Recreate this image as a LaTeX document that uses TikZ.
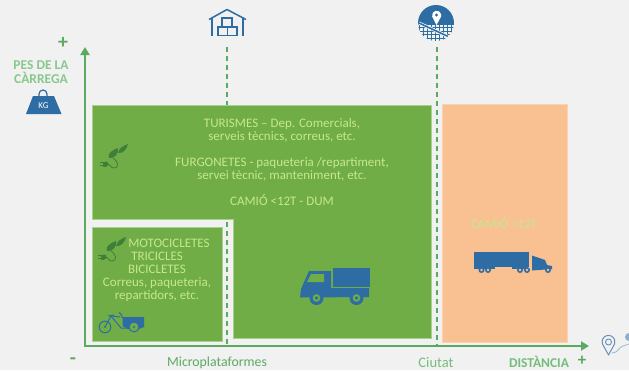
\documentclass[tikz,border=0pt]{standalone}
\usepackage{fontspec}
\setmainfont{Carlito}
\usetikzlibrary{arrows.meta}
\definecolor{pagegrey}{HTML}{F1F1F1}
\definecolor{axisgreen}{HTML}{5BAA62}
\definecolor{boxgreen}{HTML}{70AD47}
\definecolor{edgegreen}{HTML}{A9D18E}
\definecolor{textgreen}{HTML}{C5E88F}
\definecolor{labelgreen}{HTML}{86C98C}
\definecolor{darkleaf}{HTML}{3F7F3A}
\definecolor{boxorange}{HTML}{F9C091}
\definecolor{iconblue}{HTML}{2E6DA4}
\tikzset{
  axisline/.style={axisgreen,line width=2.4pt,-{Triangle[length=8pt,width=9pt]}},
  cutline/.style={axisgreen,line width=1.4pt,dash pattern=on 5pt off 4pt},
  boxtext/.style={textgreen,font=\fontsize{13}{13}\selectfont,align=center,inner sep=0pt},
  axistext/.style={axisgreen,font=\fontsize{13.8}{14}\selectfont,inner sep=0pt},
  headtext/.style={labelgreen,font=\bfseries\fontsize{13.5}{14}\selectfont,align=center,inner sep=0pt},
  sign/.style={axisgreen,font=\bfseries\fontsize{20}{20}\selectfont,inner sep=0pt},
  plant/.pic={
    \fill[darkleaf] (4,-4) .. controls (2,-9) and (8,-12) .. (13,-14) .. controls (14,-9) and (10,-3) .. (4,-4) -- cycle;
    \fill[darkleaf] (13,-9) .. controls (14,-14) and (18,-16) .. (23,-18) .. controls (22,-14) and (19,-8) .. (13,-9) -- cycle;
    \draw[darkleaf,line width=.8pt] (8,-4) .. controls (14,0) and (14,6) .. (9,6) .. controls (5,6) and (6,2) .. (2,2);
    \fill[darkleaf] (-2,-0.5) rectangle (1,4.5);
    \fill[darkleaf] (1,2) circle (2.5);
    \draw[darkleaf,line width=.8pt] (-5,0.5) -- (-2,0.5);
    \draw[darkleaf,line width=.8pt] (-5,3.5) -- (-2,3.5);
  }
}
\begin{document}
\begin{tikzpicture}[x=1pt,y=-1pt]
\useasboundingbox[fill=pagegrey] (0,0) rectangle (629,370);
\coordinate (O) at (85,346);
\coordinate (ytip) at (85,47);
\coordinate (xtip) at (589,346);
% boxes
\draw[draw=edgegreen,fill=boxgreen,line width=1pt] (92,105) -- (431,105) -- (431,338) -- (233,338) -- (233,219) -- (92,219) -- cycle;
\node[draw=edgegreen,fill=boxgreen,line width=1pt,minimum width=130pt,minimum height=114pt,inner sep=0pt,anchor=north west] (micro) at (92,227) {};
\node[draw=boxorange!70!white,fill=boxorange,line width=.8pt,minimum width=125pt,minimum height=238pt,inner sep=0pt,anchor=north west] (far) at (442,104) {};
% icons on top
\coordinate (depothead) at (227,47);
\coordinate (depotfoot) at (227,105);
\coordinate (microtop) at (227,222);
\coordinate (microfoot) at (227,346);
\coordinate (cityhead) at (437,47);
\coordinate (cityfoot) at (437,346);
\draw[cutline] (depothead) -- (depotfoot);
\draw[cutline] (microtop) -- (microfoot);
\draw[cutline] (cityhead) -- (cityfoot);
% axes
\draw[axisline,line cap=round] (O) -- (ytip);
\draw[axisline,line cap=round] (O) -- (xtip);
% warehouse
\draw[iconblue,line width=1.5pt,line join=round] (209,19.5) -- (227,9.5) -- (246,19.5);
\draw[iconblue,line width=1.5pt] (212,18) -- (212,36);
\draw[iconblue,line width=1.5pt] (243,18) -- (243,36);
\draw[iconblue,line width=1.2pt] (218,27) rectangle (227.5,35.5);
\draw[iconblue,line width=1.2pt] (227.5,27) rectangle (237,35.5);
\draw[iconblue,line width=1.2pt] (222,18) rectangle (232,27);
% map
\begin{scope}
\clip (436,23) circle (18);
\fill[iconblue] (418,5) rectangle (454,24);
\foreach \k in {0,...,8} \draw[iconblue,line width=1pt] (419+4*\k,22) -- (419+4*\k,41);
\foreach \k in {0,...,4} \draw[iconblue,line width=1pt] (418,24+3.6*\k) -- (454,24+3.6*\k);
\draw[white,line width=3pt] (419,23) -- (447,36);
\draw[iconblue,line width=1.6pt] (419,23) -- (447,36);
\end{scope}
\fill[white] (436.5,25) -- (432.2,16.5) arc (165:375:4.6) -- cycle;
\fill[iconblue] (436.5,15) circle (1.7);
% weight
\fill[iconblue] (33,96) -- (54,96) -- (61.5,114) -- (26,114) -- cycle;
\draw[iconblue,line width=1.2pt] (39,97) -- (39,94) arc (180:360:4) -- (47,97);
\node[white,font=\fontsize{9}{9}\selectfont,inner sep=0pt] (kg) at (43.5,105.5) {KG};
% plants
\pic at (105,162) {plant};
\pic at (103,255) {plant};
% bike
\draw[iconblue,line width=1pt] (105,327) circle (5.8);
\fill[iconblue] (105,327) circle (1.2);
\fill[iconblue] (122.5,317) -- (144,317) -- (144,327) -- (139,329) -- (128,329) -- (122.5,326) -- cycle;
\draw[iconblue,line width=1pt] (105,327) -- (111,316) -- (121,328) -- (134,328);
\draw[iconblue,line width=1pt] (108,316) -- (114,315);
\draw[iconblue,line width=1pt] (111,316) -- (120,317);
\draw[iconblue,line width=1pt] (122.5,318) -- (121,314) -- (119,312.5);
\draw[iconblue,fill=boxgreen,line width=1pt] (134,327) circle (5);
\fill[iconblue] (134,327) circle (1.2);
% small truck
\fill[iconblue] (332.5,268) rectangle (370,286.5);
\fill[iconblue] (309,271) -- (331,271) -- (331,288) -- (369,288) -- (369,297) -- (300,297.5) -- (301,289) -- cycle;
\fill[boxgreen] (311,274) -- (324,274) -- (324,282) -- (307,282) -- cycle;
\foreach \wx in {316.5,356.5} {
  \fill[iconblue] (\wx,298) circle (7);
  \fill[boxgreen] (\wx,298) circle (3.8);
  \fill[iconblue] (\wx,298) circle (1.8);
}
% long truck
\fill[iconblue] (474,252) rectangle (528.5,267);
\fill[iconblue] (474,267) rectangle (495,268.5);
\fill[iconblue] (512,267) rectangle (528,268.5);
\fill[iconblue] (532,255.5) -- (545,260) -- (547,265) -- (552,266) -- (552,269) -- (532,270.5) -- cycle;
\foreach \wx in {481.5,488,520,527,548} {
  \fill[iconblue] (\wx,270) circle (3);
  \fill[boxorange] (\wx,270) circle (1.4);
}
% pin
\draw[iconblue!75!white,line width=1pt,line join=round] (608.5,355) -- (602.5,344) arc (160:380:6.4) -- cycle;
\draw[iconblue!75!white,line width=.9pt] (608.5,342) circle (3);
\draw[iconblue!45!white,line width=.9pt] (612,353) .. controls (620,352) and (618,347) .. (623,346) -- (629,344);
\fill[iconblue!55!white] (629,337) circle (4);
% labels
\node[sign] (plusy) at (63,43) {+};
\node[sign] (minus) at (73,361) {-};
\node[sign,font=\bfseries\fontsize{17}{17}\selectfont] (plusx) at (582,361) {+};
\node[headtext] (weight) at (41,72) {PES DE LA\\CÀRREGA};
\node[axistext] (microlabel) at (217,362.5) {Microplataformes};
\node[axistext,labelgreen!60!axisgreen,font=\fontsize{14.5}{14}\selectfont] (citylabel) at (436,362.5) {Ciutat};
\node[axistext,labelgreen!60!axisgreen,font=\bfseries\fontsize{13.5}{14}\selectfont] (dist) at (539,362) {DISTÀNCIA};
\node[boxtext] (vans) at (282,162) {TURISMES -- Dep. Comercials,\\serveis tècnics, correus, etc.\\[13pt]FURGONETES  - paqueteria /repartiment,\\servei tècnic, manteniment, etc.\\[13pt]CAMIÓ <12T - DUM};
\node[boxtext] (moto) at (157,270.5) {\hspace*{24pt}MOTOCICLETES\\TRICICLES\\BICICLETES\\Correus, paqueteria,\\repartidors, etc.};
\node[boxtext] (heavy) at (504,223) {CAMIÓ >12T};
\end{tikzpicture}
\end{document}
